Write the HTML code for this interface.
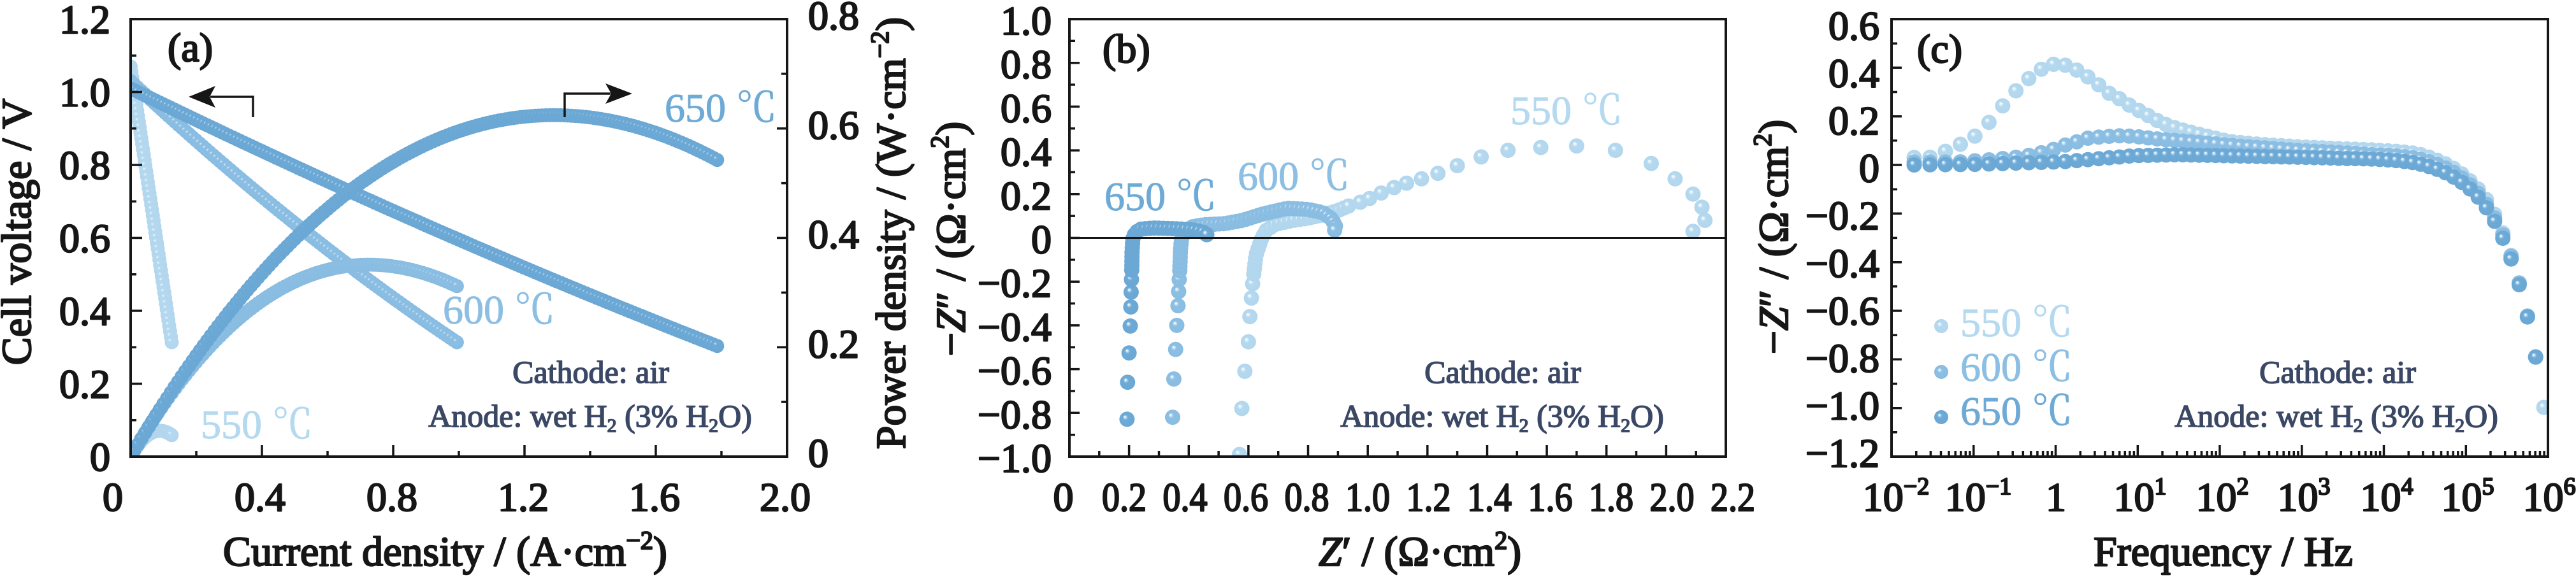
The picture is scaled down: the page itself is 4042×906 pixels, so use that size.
<!DOCTYPE html>
<html><head><meta charset="utf-8"><title>chart</title>
<style>
html,body{margin:0;padding:0;background:#fff;width:4042px;height:906px;overflow:hidden}
svg{display:block}
text{font-family:"Liberation Serif","Noto Serif CJK SC",serif;fill:#161616;stroke:#161616;stroke-width:2.4px;stroke-linejoin:round}
.yl{font-size:64px;text-anchor:end}
.xl{font-size:64px;text-anchor:middle}
.lab{font-size:64px}
.ti{font-size:66px}
.an{font-size:50px;fill:#3b4865;stroke:#3b4865;stroke-width:1.6px;text-anchor:middle}
.c550{fill:#b5d9ef;stroke:#b5d9ef;stroke-width:1px}.c600{fill:#8cbfe3;stroke:#8cbfe3;stroke-width:1px}.c650{fill:#6eaad6;stroke:#6eaad6;stroke-width:1px}
</style></head><body>
<svg id="s" width="4042" height="906" viewBox="0 0 4042 906" xmlns="http://www.w3.org/2000/svg">
<defs>
 <radialGradient id="g650" cx="0.5" cy="0.5" r="0.5" fx="0.35" fy="0.33">
  <stop offset="0" stop-color="#ffffff"/><stop offset="0.07" stop-color="#eef6fb"/>
  <stop offset="0.2" stop-color="#a6cdea"/><stop offset="0.34" stop-color="#6eaad6"/>
  <stop offset="1" stop-color="#6ba7d4"/>
 </radialGradient>
 <radialGradient id="g600" cx="0.5" cy="0.5" r="0.5" fx="0.35" fy="0.33">
  <stop offset="0" stop-color="#ffffff"/><stop offset="0.07" stop-color="#f0f7fc"/>
  <stop offset="0.2" stop-color="#bcdaf0"/><stop offset="0.34" stop-color="#8cbfe3"/>
  <stop offset="1" stop-color="#89bce1"/>
 </radialGradient>
 <radialGradient id="g550" cx="0.5" cy="0.5" r="0.5" fx="0.35" fy="0.33">
  <stop offset="0" stop-color="#ffffff"/><stop offset="0.07" stop-color="#f4fafd"/>
  <stop offset="0.2" stop-color="#d8ebf7"/><stop offset="0.34" stop-color="#b5d9ef"/>
  <stop offset="1" stop-color="#b1d6ed"/>
 </radialGradient>
 <radialGradient id="a650" cx="0.5" cy="0.5" r="0.5" fx="0.33" fy="0.3">
  <stop offset="0" stop-color="#d2e6f5"/><stop offset="0.1" stop-color="#a6cdea"/>
  <stop offset="0.24" stop-color="#6eaad6"/><stop offset="1" stop-color="#6ba7d4"/>
 </radialGradient>
 <radialGradient id="a600" cx="0.5" cy="0.5" r="0.5" fx="0.33" fy="0.3">
  <stop offset="0" stop-color="#dcedf8"/><stop offset="0.1" stop-color="#bcdaf0"/>
  <stop offset="0.24" stop-color="#8cbfe3"/><stop offset="1" stop-color="#89bce1"/>
 </radialGradient>
 <radialGradient id="a550" cx="0.5" cy="0.5" r="0.5" fx="0.33" fy="0.3">
  <stop offset="0" stop-color="#eef6fc"/><stop offset="0.1" stop-color="#d8ebf7"/>
  <stop offset="0.24" stop-color="#b5d9ef"/><stop offset="1" stop-color="#b1d6ed"/>
 </radialGradient>
 <clipPath id="cA"><rect x="205" y="30" width="1030" height="687"/></clipPath>
 <clipPath id="cB"><rect x="1678" y="30" width="1030" height="687"/></clipPath>
 <clipPath id="cC"><rect x="2968" y="30" width="1030" height="687"/></clipPath>
</defs>

<g id="dA" clip-path="url(#cA)"></g>
<g id="dB" clip-path="url(#cB)"></g>
<g id="dC" clip-path="url(#cC)"></g>

<line x1="1678" y1="373.5" x2="2708" y2="373.5" stroke="#161616" stroke-width="3"/>

<g fill="none" stroke="#161616" stroke-width="4">
 <rect x="205" y="30" width="1030" height="687"/>
 <rect x="1678" y="30" width="1030" height="687"/>
 <rect x="2968" y="30" width="1030" height="687"/>
</g>
<path id="ticks" fill="none" stroke="#161616" stroke-width="3.5" d=""/>

<!-- Panel A arrows -->
<path d="M397 184V152H330" stroke="#161616" stroke-width="3.5" fill="none"/>
<path d="M296 152L338 135L329 152L338 169Z" fill="#161616"/>
<path d="M886 184V147H958" stroke="#161616" stroke-width="3.5" fill="none"/>
<path d="M992 147L950 131L959 147L950 163Z" fill="#161616"/>

<!-- Panel A labels -->
<text class="yl" x="173" y="52">1.2</text>
<text class="yl" x="173" y="166.5">1.0</text>
<text class="yl" x="173" y="281">0.8</text>
<text class="yl" x="173" y="395.5">0.6</text>
<text class="yl" x="173" y="510">0.4</text>
<text class="yl" x="173" y="624.5">0.2</text>
<text class="yl" x="173" y="739">0</text>
<text class="xl" x="177" y="802">0</text>
<text class="xl" x="408" y="802">0.4</text>
<text class="xl" x="615" y="802">0.8</text>
<text class="xl" x="821" y="802">1.2</text>
<text class="xl" x="1027" y="802">1.6</text>
<text class="xl" x="1232" y="802">2.0</text>
<text class="lab" x="1268" y="46">0.8</text>
<text class="lab" x="1268" y="217.75">0.6</text>
<text class="lab" x="1268" y="389.5">0.4</text>
<text class="lab" x="1268" y="561.25">0.2</text>
<text class="lab" x="1268" y="733">0</text>
<text class="ti" transform="translate(48,364) rotate(-90)" text-anchor="middle">Cell voltage / V</text>
<text class="ti" transform="translate(1420,366) rotate(-90)" text-anchor="middle">Power density / (W·cm<tspan font-size="40" dy="-26">−2</tspan><tspan dy="26">)</tspan></text>
<text class="ti" x="350" y="888">Current density / (A·cm<tspan font-size="40" dy="-26">−2</tspan><tspan dy="26">)</tspan></text>
<text class="lab" x="263" y="96">(a)</text>
<text class="lab c650" x="1043" y="191">650 ℃</text>
<text class="lab c600" x="695" y="508">600 ℃</text>
<text class="lab c550" x="315" y="688">550 ℃</text>
<text class="an" x="927" y="601">Cathode: air</text>
<text class="an" x="926" y="670">Anode: wet H<tspan font-size="30" dy="8">2</tspan><tspan dy="-8"> (3% H</tspan><tspan font-size="30" dy="8">2</tspan><tspan dy="-8">O)</tspan></text>

<!-- Panel B labels -->
<text class="yl" x="1650" y="54">1.0</text>
<text class="yl" x="1650" y="122.7">0.8</text>
<text class="yl" x="1650" y="191.4">0.6</text>
<text class="yl" x="1650" y="260.1">0.4</text>
<text class="yl" x="1650" y="328.8">0.2</text>
<text class="yl" x="1650" y="397.5">0</text>
<text class="yl" x="1650" y="466.2">−0.2</text>
<text class="yl" x="1650" y="534.9">−0.4</text>
<text class="yl" x="1650" y="603.6">−0.6</text>
<text class="yl" x="1650" y="672.3">−0.8</text>
<text class="yl" x="1650" y="741">−1.0</text>
<text class="xl" x="1668.5" y="802">0</text>
<text class="xl" x="1764" y="802" textLength="70" lengthAdjust="spacingAndGlyphs">0.2</text>
<text class="xl" x="1859.5" y="802" textLength="70" lengthAdjust="spacingAndGlyphs">0.4</text>
<text class="xl" x="1955" y="802" textLength="70" lengthAdjust="spacingAndGlyphs">0.6</text>
<text class="xl" x="2050.5" y="802" textLength="70" lengthAdjust="spacingAndGlyphs">0.8</text>
<text class="xl" x="2146" y="802" textLength="70" lengthAdjust="spacingAndGlyphs">1.0</text>
<text class="xl" x="2241.5" y="802" textLength="70" lengthAdjust="spacingAndGlyphs">1.2</text>
<text class="xl" x="2337" y="802" textLength="70" lengthAdjust="spacingAndGlyphs">1.4</text>
<text class="xl" x="2432.5" y="802" textLength="70" lengthAdjust="spacingAndGlyphs">1.6</text>
<text class="xl" x="2528" y="802" textLength="70" lengthAdjust="spacingAndGlyphs">1.8</text>
<text class="xl" x="2623.5" y="802" textLength="70" lengthAdjust="spacingAndGlyphs">2.0</text>
<text class="xl" x="2719" y="802" textLength="70" lengthAdjust="spacingAndGlyphs">2.2</text>
<text class="ti" transform="translate(1514,375) rotate(-90)" text-anchor="middle">−<tspan font-style="italic">Z</tspan>″ / (Ω·cm<tspan font-size="40" dy="-26">2</tspan><tspan dy="26">)</tspan></text>
<text class="ti" x="2069" y="888"><tspan font-style="italic">Z</tspan>′ / (Ω·cm<tspan font-size="40" dy="-26">2</tspan><tspan dy="26">)</tspan></text>
<text class="lab" x="1730" y="98">(b)</text>
<text class="lab c650" x="1733" y="330">650 ℃</text>
<text class="lab c600" x="1942" y="298">600 ℃</text>
<text class="lab c550" x="2370" y="195">550 ℃</text>
<text class="an" x="2358" y="601">Cathode: air</text>
<text class="an" x="2357" y="670">Anode: wet H<tspan font-size="30" dy="8">2</tspan><tspan dy="-8"> (3% H</tspan><tspan font-size="30" dy="8">2</tspan><tspan dy="-8">O)</tspan></text>

<!-- Panel C labels -->
<text class="yl" x="2949" y="62">0.6</text>
<text class="yl" x="2949" y="136.6">0.4</text>
<text class="yl" x="2949" y="211.1">0.2</text>
<text class="yl" x="2949" y="285.7">0</text>
<text class="yl" x="2949" y="360.2">−0.2</text>
<text class="yl" x="2949" y="434.8">−0.4</text>
<text class="yl" x="2949" y="509.3">−0.6</text>
<text class="yl" x="2949" y="583.9">−0.8</text>
<text class="yl" x="2949" y="658.4">−1.0</text>
<text class="yl" x="2949" y="733">−1.2</text>
<text class="xl" x="2975" y="802">10<tspan font-size="38" dy="-26">−2</tspan></text>
<text class="xl" x="3104" y="802">10<tspan font-size="38" dy="-26">−1</tspan></text>
<text class="xl" x="3226" y="802">1</text>
<text class="xl" x="3358" y="802">10<tspan font-size="38" dy="-26">1</tspan></text>
<text class="xl" x="3487" y="802">10<tspan font-size="38" dy="-26">2</tspan></text>
<text class="xl" x="3615" y="802">10<tspan font-size="38" dy="-26">3</tspan></text>
<text class="xl" x="3745" y="802">10<tspan font-size="38" dy="-26">4</tspan></text>
<text class="xl" x="3872" y="802">10<tspan font-size="38" dy="-26">5</tspan></text>
<text class="xl" x="4000" y="802">10<tspan font-size="38" dy="-26">6</tspan></text>
<text class="ti" transform="translate(2805,372) rotate(-90)" text-anchor="middle">−<tspan font-style="italic">Z</tspan>″ / (Ω·cm<tspan font-size="40" dy="-26">2</tspan><tspan dy="26">)</tspan></text>
<text class="ti" x="3285" y="888">Frequency / Hz</text>
<text class="lab" x="3008" y="98">(c)</text>
<circle cx="3046" cy="512" r="11" fill="url(#g550)"/>
<circle cx="3046" cy="584" r="11" fill="url(#g600)"/>
<circle cx="3046" cy="655" r="11" fill="url(#g650)"/>
<text class="lab c550" x="3076" y="528">550 ℃</text>
<text class="lab c600" x="3076" y="598">600 ℃</text>
<text class="lab c650" x="3076" y="667">650 ℃</text>
<text class="an" x="3668" y="601">Cathode: air</text>
<text class="an" x="3666" y="670">Anode: wet H<tspan font-size="30" dy="8">2</tspan><tspan dy="-8"> (3% H</tspan><tspan font-size="30" dy="8">2</tspan><tspan dy="-8">O)</tspan></text>
</svg>

<script>
(function(){
var NS='http://www.w3.org/2000/svg';
function addDots(gid,pts,grad,r){
  var g=document.getElementById(gid);
  for(var i=0;i<pts.length;i++){
    var c=document.createElementNS(NS,'circle');
    c.setAttribute('cx',pts[i][0].toFixed(1));
    c.setAttribute('cy',pts[i][1].toFixed(1));
    c.setAttribute('r',r);
    c.setAttribute('fill','url(#'+grad+')');
    g.appendChild(c);
  }
}
/* ---------- ticks ---------- */
var d='';
function tk(x1,y1,x2,y2){d+='M'+x1.toFixed(1)+' '+y1.toFixed(1)+'L'+x2.toFixed(1)+' '+y2.toFixed(1);}
var AX=function(J){return 205+J*515;}, AYV=function(V){return 717-V*572.5;}, AYP=function(P){return 717-P*858.75;};
var BX=function(z){return 1678+z*468.18;}, BY=function(v){return 373.5-v*343.5;};
var CX=function(L){return 2968+(L+2)*128.75;}, CY=function(v){return 717-(v+1.2)*381.67;};
var i,x,y,len,k,dd;
for(i=0;i<=10;i++){x=AX(i*0.2);len=i%2?9:18;tk(x,717,x,717-len);}
for(i=0;i<=12;i++){y=AYV(i*0.1);len=i%2?9:18;tk(205,y,205+len,y);}
for(i=0;i<=8;i++){y=AYP(i*0.1);len=i%2?9:16;tk(1235,y,1235-len,y);}
for(i=0;i<=22;i++){x=BX(i*0.1);len=i%2?9:18;tk(x,717,x,717-len);}
for(i=0;i<=20;i++){y=BY(-1+i*0.1);len=i%2?9:16;tk(1678,y,1678+len,y);}
for(dd=-2;dd<=6;dd++){x=CX(dd);tk(x,717,x,699);if(dd<6){for(k=2;k<=9;k++){x=CX(dd+Math.log10(k));tk(x,717,x,708);}}}
for(i=0;i<=18;i++){y=CY(-1.2+i*0.1);len=i%2?9:16;tk(2968,y,2968+len,y);}
document.getElementById('ticks').setAttribute('d',d);

/* ---------- Panel A ---------- */
var sA=[
 ['a550',function(J){return 1.07-6.05*J;},0.125,0.0025],
 ['a600',function(J){return 1.03-0.84*J+0.12*J*J;},0.994,0.0105],
 ['a650',function(J){return 1.01-0.44*J+0.025*J*J;},1.787,0.0111]
];
sA.forEach(function(s){
  var n=Math.round(s[2]/s[3]),pv=[],pp=[];
  for(var j=0;j<=n;j++){var J=s[2]*j/n,v=s[1](J);pv.push([AX(J),AYV(v)]);pp.push([AX(J),AYP(v*J)]);}
  addDots('dA',pv,s[0],11);addDots('dA',pp,s[0],11);
});

/* ---------- Panel B ---------- */
function px(p){return [BX(p[0]),BY(p[1])];}
function along(pts,step){
  var P=pts.map(px),out=[P[0]],carry=0;
  for(var m=1;m<P.length;m++){
    var x0=P[m-1][0],y0=P[m-1][1],x1=P[m][0],y1=P[m][1],dl=Math.hypot(x1-x0,y1-y0);
    if(dl===0)continue;
    var t=step-carry;
    while(t<=dl){out.push([x0+(x1-x0)*t/dl,y0+(y1-y0)*t/dl]);t+=step;}
    carry=dl-(t-step);
  }
  return out;
}
var B650s=[[0.193,-0.829],[0.195,-0.66],[0.20,-0.526],[0.204,-0.403],[0.206,-0.316],[0.207,-0.248],[0.208,-0.19]];
var B650d=[[0.209,-0.147],[0.21,-0.06],[0.213,0],[0.222,0.025],[0.24,0.04],[0.28,0.045],[0.33,0.043],[0.38,0.04],[0.42,0.035],[0.45,0.025],[0.465,0.01],[0.466,0.0]];
var B600s=[[0.346,-0.82],[0.35,-0.645],[0.356,-0.51],[0.36,-0.40],[0.364,-0.31],[0.366,-0.245],[0.368,-0.19]];
var B600d=[[0.37,-0.15],[0.372,-0.06],[0.376,0],[0.388,0.03],[0.41,0.05],[0.45,0.06],[0.52,0.065],[0.58,0.08],[0.65,0.11],[0.73,0.135],[0.8,0.13],[0.85,0.115],[0.88,0.085],[0.893,0.05],[0.885,0.02]];
var B550s=[[0.57,-0.99],[0.578,-0.78],[0.588,-0.61],[0.6,-0.475],[0.605,-0.36],[0.61,-0.275],[0.614,-0.21]];
var B550d=[[0.618,-0.165],[0.625,-0.08],[0.645,0],[0.66,0.035],[0.69,0.062],[0.75,0.08],[0.8,0.09],[0.85,0.105],[0.9,0.125],[0.94,0.148]];
var B550a=[[0.975,0.163],[1.006,0.18],[1.045,0.205],[1.088,0.23],[1.13,0.25],[1.18,0.27],[1.235,0.295],[1.30,0.33],[1.38,0.37],[1.47,0.40],[1.58,0.413],[1.70,0.42],[1.83,0.40],[1.95,0.34],[2.03,0.27],[2.09,0.20],[2.12,0.14],[2.13,0.08],[2.09,0.03]];
addDots('dB',B550s.map(px),'g550',12);addDots('dB',along(B550d,8),'g550',12);addDots('dB',B550a.map(px),'g550',12);
addDots('dB',B600s.map(px),'g600',12);addDots('dB',along(B600d,7),'g600',12);
addDots('dB',B650s.map(px),'g650',12);addDots('dB',along(B650d,7),'g650',12);

/* ---------- Panel C ---------- */
function interp(kn,L){
  if(L<=kn[0][0])return kn[0][1];
  for(var m=1;m<kn.length;m++){if(L<=kn[m][0]){var a=kn[m-1],b=kn[m];return a[1]+(b[1]-a[1])*(L-a[0])/(b[0]-a[0]);}}
  return kn[kn.length-1][1];
}
var K550=[[-1.75,0.031],[-1.56,0.028],[-1.35,0.055],[-1.15,0.087],[-0.96,0.123],[-0.77,0.19],[-0.59,0.267],[-0.4,0.335],[-0.2,0.39],[-0.03,0.414],[0.13,0.41],[0.29,0.385],[0.45,0.35],[0.67,0.29],[0.81,0.267],[0.94,0.236],[1.07,0.215],[1.2,0.189],[1.33,0.168],[1.46,0.152],[1.59,0.14],[1.85,0.118],[2.11,0.097],[2.5,0.085],[3,0.075],[3.5,0.07],[4.0,0.07],[4.4,0.075],[4.72,0.068],[5.07,0.06],[5.24,0.058],[5.34,0.049],[5.41,0.039],[5.5,0.032],[5.6,0.018],[5.7,0.006],[6,0]];
var K600=[[-1.75,0.012],[-1.2,0.012],[-0.77,0.022],[-0.41,0.034],[-0.24,0.045],[-0.07,0.058],[0.09,0.079],[0.25,0.094],[0.39,0.11],[0.54,0.115],[0.75,0.12],[0.95,0.118],[1.3,0.105],[1.6,0.097],[2.0,0.085],[2.3,0.076],[3,0.06],[3.85,0.05],[4.4,0.055],[4.8,0.05],[5.2,0.04],[5.5,0.025],[5.8,0.005],[6,0]];
var K650=[[-1.75,0.0],[-1.0,0.002],[-0.6,0.006],[-0.24,0.01],[0.09,0.013],[0.4,0.022],[0.68,0.03],[0.95,0.038],[1.5,0.042],[2.5,0.035],[3.5,0.03],[4.4,0.035],[4.8,0.03],[5.2,0.025],[5.5,0.012],[5.8,0.003],[6,0]];
var Ls=[],L=5.95;
while(L>-1.8){Ls.push(L);L-=(L>1.58?0.1:0.1+0.03*(1.58-L));}
function cser(kn,Lmax,grad){
  var pts=[];
  for(var m=Ls.length-1;m>=0;m--){var l=Ls[m];if(l>Lmax+1e-6)continue;var v=interp(kn,l)-1.12e-6*Math.pow(10,l);pts.push([CX(l),CY(v)]);}
  addDots('dC',pts,grad,12);
}
cser(K550,5.96,'g550');cser(K600,5.86,'g600');cser(K650,5.86,'g650');
})();
</script>
</body></html>
